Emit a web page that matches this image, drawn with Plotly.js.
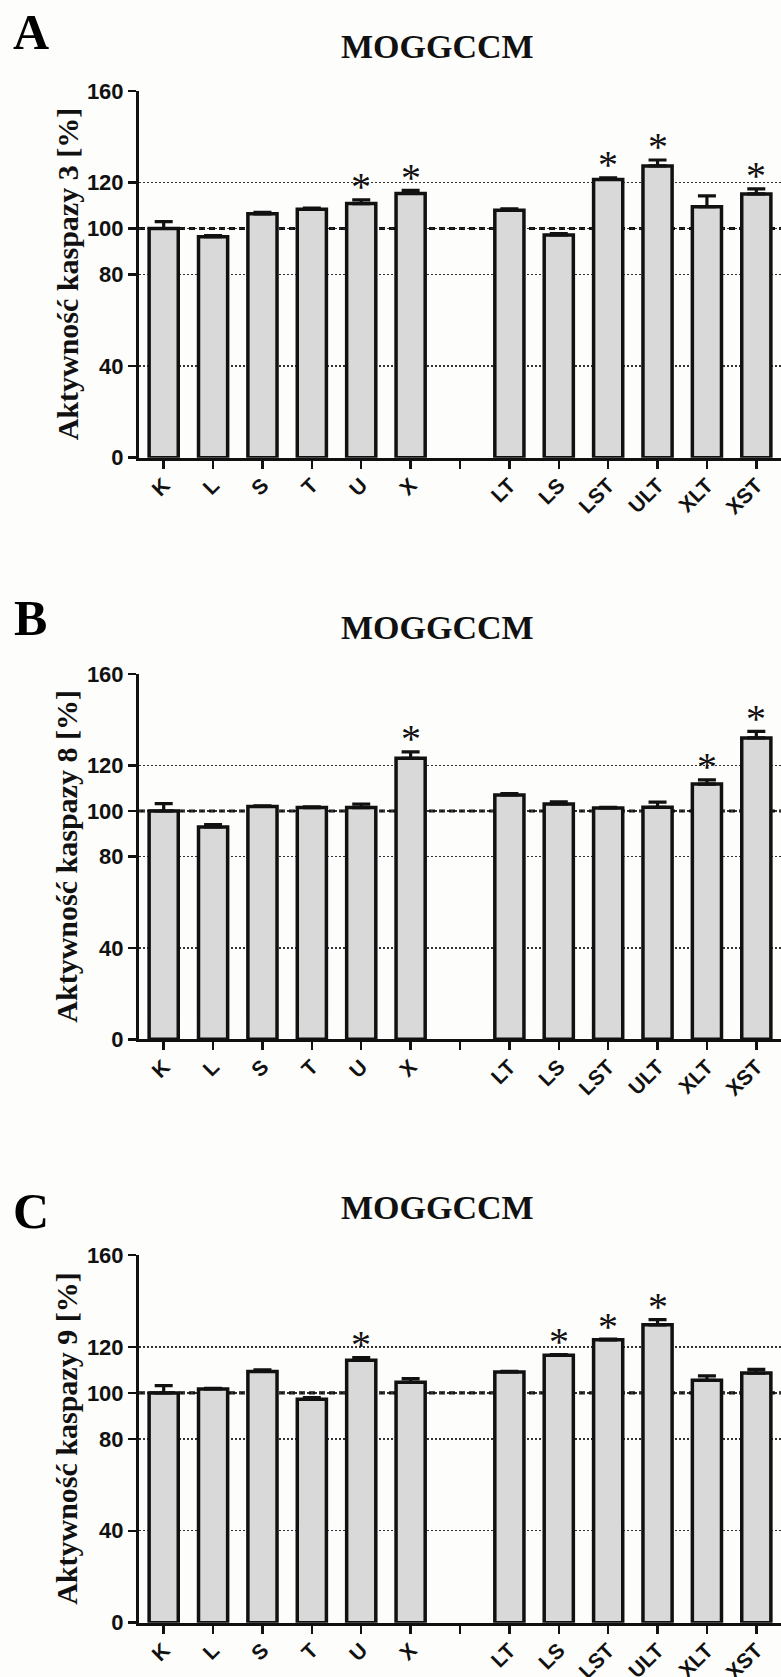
<!DOCTYPE html>
<html>
<head>
<meta charset="utf-8">
<script src="https://cdn.plot.ly/plotly-3.0.1.min.js"></script>
<style>
  html, body { margin: 0; padding: 0; background: #fdfdfb; }
  #chart { width: 781px; height: 1677px; }
</style>
</head>
<body>
<div id="chart"></div>
<script>
// ---- Data ----
const categories = ['K', 'L', 'S', 'T', 'U', 'X', 'LT', 'LS', 'LST', 'ULT', 'XLT', 'XST'];
const yTickVals = [0, 40, 80, 100, 120, 160];

const panelLetters = ['A', 'B', 'C'];
const panelTitles = ['MOGGCCM', 'MOGGCCM', 'MOGGCCM'];
const yTitles = ['Aktywność kaspazy 3 [%]', 'Aktywność kaspazy 8 [%]', 'Aktywność kaspazy 9 [%]'];

const casp3 = [100, 96.4, 106.4, 108.4, 110.9, 115.3, 108.0, 97.2, 121.4, 127.3, 109.5, 115.1];
const casp3Err = [3.0, 0.5, 0.6, 0.5, 1.6, 1.3, 0.6, 0.6, 0.7, 2.6, 4.7, 2.2];
const casp3Sig = ['U', 'X', 'LST', 'ULT', 'XST'];

const casp8 = [100, 93.0, 102.0, 101.5, 101.5, 123.1, 107.0, 103.1, 101.3, 101.6, 111.8, 132.0];
const casp8Err = [3.2, 1.0, 0.3, 0.3, 1.5, 2.8, 0.6, 0.9, 0.3, 2.3, 1.8, 2.9];
const casp8Sig = ['X', 'XLT', 'XST'];

const casp9 = [100, 101.7, 109.3, 97.2, 114.2, 104.6, 109.1, 116.4, 123.1, 129.6, 105.5, 108.6];
const casp9Err = [3.2, 0.3, 0.7, 0.7, 1.2, 1.6, 0.3, 0.3, 0.3, 2.3, 1.9, 1.6];
const casp9Sig = ['U', 'LS', 'LST', 'ULT'];

// ---- Layout helpers ----
const W = 781, H = 1677;
const SERIF = 'Liberation Serif, Times New Roman, serif';
const SANS = 'Liberation Sans, Arial, sans-serif';
const gapAfter = 6; // empty slot between single and combined treatments
const pos = categories.map((c, i) => (i < gapAfter ? i : i + 1));
const tickVals = [];
const tickText = [];
for (let k = 0; k <= categories.length; k++) {
  tickVals.push(k);
  const idx = pos.indexOf(k);
  tickText.push(idx >= 0 ? categories[idx] : '');
}

// pixel geometry of each panel: plot top / bottom (value 160 / value 0)
const panels = [
  { vals: casp3, err: casp3Err, sig: casp3Sig, top: 91, bottom: 457.7, letterY: 32, titleY: 46 },
  { vals: casp8, err: casp8Err, sig: casp8Sig, top: 674, bottom: 1039.3, letterY: 618, titleY: 627 },
  { vals: casp9, err: casp9Err, sig: casp9Sig, top: 1255, bottom: 1622.7, letterY: 1211, titleY: 1207 }
];
const axisX = 139;
const py = p => 1 - p / H;
const px = p => p / W;

const data = [];
const annotations = [];
const shapes = [];
const layout = {
  width: W, height: H,
  margin: { l: 0, r: 0, t: 0, b: 0 },
  paper_bgcolor: '#fdfdfb',
  plot_bgcolor: 'rgba(0,0,0,0)',
  showlegend: false,
  annotations: annotations,
  shapes: shapes
};

panels.forEach((p, n) => {
  const s = n === 0 ? '' : String(n + 1);
  const xa = 'x' + s, ya = 'y' + s;
  data.push({
    type: 'bar',
    x: pos,
    y: p.vals,
    xaxis: xa, yaxis: ya,
    width: 0.59,
    marker: { color: '#d9d9d9', line: { color: '#111', width: 3.5 } },
    error_y: {
      type: 'data', symmetric: false,
      array: p.err, arrayminus: p.err.map(() => 0),
      color: '#111', thickness: 3.2, width: 9
    },
    hoverinfo: 'x+y'
  });
  layout['xaxis' + s] = {
    anchor: ya,
    domain: [px(axisX), 1],
    range: [-0.5, 12.5],
    tickmode: 'array', tickvals: tickVals, ticktext: tickText,
    tickangle: -45,
    ticks: 'outside', ticklen: 8, tickwidth: 2.5, tickcolor: '#111',
    ticklabelstandoff: -4,
    tickfont: { family: SANS, size: 21, color: '#111', weight: 'bold' },
    showline: true, linewidth: 3, linecolor: '#111',
    showgrid: false, zeroline: false, fixedrange: true
  };
  layout['yaxis' + s] = {
    anchor: xa,
    domain: [py(p.bottom), py(p.top)],
    range: [0, 160],
    tickmode: 'array', tickvals: yTickVals,
    ticks: 'outside', ticklen: 8, tickwidth: 2.5, tickcolor: '#111',
    tickfont: { family: SANS, size: 22, color: '#111', weight: 'bold' },
    showline: true, linewidth: 3, linecolor: '#111',
    showgrid: true, gridcolor: '#333', gridwidth: 1.4, griddash: '2px,2px',
    zeroline: false, fixedrange: true
  };
  // dashed reference line at 100 %
  shapes.push({
    type: 'line', layer: 'below',
    xref: xa + ' domain', x0: 0, x1: 1,
    yref: ya, y0: 100, y1: 100,
    line: { color: '#111', width: 3.2, dash: '6px,4px' }
  });
  // significance stars
  p.sig.forEach(c => {
    const i = categories.indexOf(c);
    annotations.push({
      xref: xa, yref: ya, x: pos[i], y: p.vals[i] + p.err[i],
      text: '*', showarrow: false, yanchor: 'middle', yshift: 13,
      font: { family: SERIF, size: 40, color: '#111' }
    });
  });
  // panel letter
  annotations.push({
    xref: 'paper', yref: 'paper', x: px(31), y: py(p.letterY),
    xanchor: 'center', yanchor: 'middle',
    text: panelLetters[n], showarrow: false,
    font: { family: SERIF, size: 50, color: '#000', weight: 'bold' }
  });
  // panel title
  annotations.push({
    xref: 'paper', yref: 'paper', x: px(437), y: py(p.titleY),
    xanchor: 'center', yanchor: 'middle',
    text: panelTitles[n], showarrow: false,
    font: { family: SERIF, size: 34, color: '#111', weight: 'bold' }
  });
  // y-axis title
  annotations.push({
    xref: 'paper', yref: 'paper', x: px(67), y: py((p.top + p.bottom) / 2),
    xanchor: 'center', yanchor: 'middle', textangle: -90,
    text: yTitles[n], showarrow: false,
    font: { family: SERIF, size: 30, color: '#111', weight: 'bold' }
  });
});

Plotly.newPlot('chart', data, layout, { staticPlot: true, displayModeBar: false });
</script>
</body>
</html>
